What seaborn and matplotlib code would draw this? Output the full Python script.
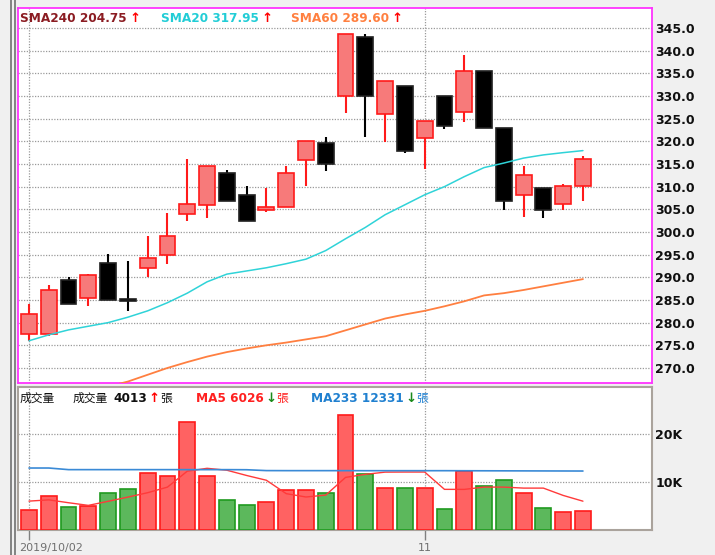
import numpy as np
import matplotlib
matplotlib.use('Agg')
import matplotlib.pyplot as plt
import matplotlib.transforms as mtransforms
from matplotlib.lines import Line2D
import seaborn as sns

# ---- data (29 daily candles) ----
opens = [277.6, 277.6, 289.5, 285.4, 293.1, 285.2, 292.1, 295.0, 304.0, 306.0,
         313.1, 308.2, 304.9, 305.4, 315.9, 319.6, 329.9, 343.1, 326.1, 332.1,
         320.7, 330.1, 326.4, 335.5, 323.0, 308.1, 309.6, 306.1, 310.2]
highs = [284.1, 288.2, 290.1, 290.8, 295.1, 293.7, 299.2, 304.1, 316.0, 314.6,
         313.7, 310.2, 309.6, 314.6, 320.1, 321.0, 343.6, 343.7, 333.2, 332.1,
         324.4, 330.1, 339.0, 335.5, 323.0, 314.6, 309.6, 310.6, 316.8]
lows = [276.0, 277.0, 284.0, 283.6, 285.1, 282.5, 290.0, 292.9, 302.5, 303.1,
        306.9, 302.5, 304.5, 305.4, 310.1, 313.5, 326.3, 320.9, 319.9, 317.4,
        313.8, 322.8, 324.3, 322.9, 304.9, 303.4, 303.0, 304.9, 306.8]
closes = [282.0, 287.2, 284.0, 290.6, 285.1, 284.8, 294.2, 299.1, 306.1, 314.5,
          306.9, 302.5, 305.6, 313.1, 320.1, 315.0, 343.6, 329.9, 333.2, 317.9,
          324.4, 323.4, 335.5, 322.9, 306.9, 312.6, 304.9, 310.2, 316.0]

sma20 = [276.0, 277.3, 278.4, 279.2, 280.0, 281.2, 282.6, 284.4, 286.5, 289.0,
         290.7, 291.4, 292.1, 293.0, 294.0, 295.9, 298.5, 301.0, 303.8, 306.0,
         308.2, 310.0, 312.2, 314.2, 315.2, 316.3, 317.0, 317.5, 317.95]
sma60 = [np.nan, np.nan, np.nan, np.nan, 265.9, 267.0, 268.5, 270.0, 271.3, 272.5,
         273.5, 274.3, 275.0, 275.6, 276.3, 277.0, 278.3, 279.6, 280.9, 281.8,
         282.6, 283.6, 284.7, 286.0, 286.5, 287.2, 288.0, 288.8, 289.6]

volume = [4090, 7170, 4720, 4990, 7720, 8560, 11850, 11280, 22600, 11280,
          6330, 5280, 5770, 8280, 8280, 7720, 24070, 11640, 8850, 8850,
          8850, 4440, 12300, 9120, 10520, 7720, 4650, 3810, 4013]
vol_ma5 = [6040, 6300, 5700, 5150, 6000, 6880, 7800, 8970, 12300, 12900,
           12500, 11400, 10400, 7600, 6900, 7300, 11000, 11640, 12100, 12120,
           12120, 8500, 8490, 8970, 8970, 8760, 8760, 7230, 6026]
vol_ma233 = [12960, 12960, 12620, 12620, 12620, 12620, 12620, 12620, 12620, 12620,
             12620, 12600, 12420, 12410, 12410, 12410, 12410, 12400, 12400, 12400,
             12400, 12400, 12390, 12380, 12370, 12360, 12350, 12340, 12331]

xtick_pos = [0, 20]
xtick_labels = ['2019/10/02', '11']
price_ticks = [270.0, 275.0, 280.0, 285.0, 290.0, 295.0, 300.0, 305.0,
               310.0, 315.0, 320.0, 325.0, 330.0, 335.0, 340.0, 345.0]
vol_ticks = [10000, 20000]
vol_tick_labels = ['10K', '20K']

sns.set_theme(style='white')
plt.rcParams['font.family'] = ['DejaVu Sans', 'Noto Sans CJK TC']
CJK = ['Noto Sans CJK TC', 'DejaVu Sans']
LAT = ['DejaVu Sans', 'Noto Sans CJK TC']

W, H = 715, 555
fig = plt.figure(figsize=(W / 100, H / 100), dpi=100, facecolor='#f0f0f0')
ax = fig.add_axes([18 / W, 1 - 383 / H, 634 / W, 375 / H])
axv = fig.add_axes([18 / W, 1 - 530 / H, 634 / W, 143 / H], sharex=ax)

# window frame lines on the left
for xp in (11, 15):
    fig.add_artist(Line2D([xp / W, xp / W], [0, 1], color='#707070', lw=1.2))

x = np.arange(len(opens))
o = np.array(opens)
c = np.array(closes)
up = c >= o

# ---- price candles ----
body_face = np.where(up, '#f77a7a', '#000000')
body_edge = np.where(up, '#ff1a1a', '#202020')
wick_col = np.where(up, '#ff1a1a', '#000000')
ax.vlines(x, lows, highs, colors=wick_col, lw=1.5, zorder=3)
ax.bar(x, np.maximum(np.abs(c - o), 0.35), bottom=np.minimum(o, c), width=0.8,
       color=body_face, edgecolor=body_edge, lw=1.2, zorder=4)
sns.lineplot(x=x, y=sma20, ax=ax, color='#2fd3d8', lw=1.1, zorder=5)
sns.lineplot(x=x, y=sma60, ax=ax, color='#ff7f40', lw=1.3, zorder=5)

# ---- volume ----
vol_face = np.where(up, '#ff6262', '#5cb85c')
vol_edge = np.where(up, '#ff1a1a', '#1f9a1f')
axv.bar(x, volume, width=0.8, color=vol_face, edgecolor=vol_edge, lw=1.2, zorder=3)
sns.lineplot(x=x, y=vol_ma5, ax=axv, color='#ff3a3a', lw=1.0, zorder=5)
sns.lineplot(x=x, y=vol_ma233, ax=axv, color='#3a8ad6', lw=1.2, zorder=5)

# ---- axes styling ----
grid_kw = dict(color='#9a9a9a', linestyle=(0, (1, 1.2)), lw=0.9)
for a in (ax, axv):
    a.set_facecolor('white')
    a.yaxis.tick_right()
    a.tick_params(axis='y', length=0, pad=2.5, labelsize=9, labelcolor='#101010')
    a.grid(True, **grid_kw)
    a.set_axisbelow(True)
    a.set_xlabel('')
    a.set_ylabel('')

ax.set_xlim(-0.556, 31.49)
ax.set_ylim(266.68, 349.41)
ax.set_yticks(price_ticks)
ax.set_yticklabels([f'{t:.1f}' for t in price_ticks], fontweight='bold')
ax.set_xticks(xtick_pos)
ax.tick_params(axis='x', labelbottom=False, length=0)
for s in ax.spines.values():
    s.set_color('#ff33ff')
    s.set_linewidth(1.3)

axv.set_ylim(0, 29900)
axv.set_yticks(vol_ticks)
axv.set_yticklabels(vol_tick_labels, fontweight='bold')
axv.set_xticks(xtick_pos)
axv.set_xticklabels(xtick_labels)
axv.tick_params(axis='x', length=7, width=1, color='#808080', labelsize=8,
                labelcolor='#707070', pad=2.5, direction='out', bottom=True)
first = axv.get_xticklabels()[0]
first.set_horizontalalignment('left')
first.set_transform(first.get_transform() +
                    mtransforms.ScaledTranslation(-0.10, 0, fig.dpi_scale_trans))
for s in axv.spines.values():
    s.set_color('#aaa39c')
    s.set_linewidth(1.5)


def put_chain(a, x_px, y_px, pieces):
    trans = a.transAxes + mtransforms.ScaledTranslation(x_px / 100, -y_px / 100,
                                                        fig.dpi_scale_trans)
    prev = None
    for txt, col, bold, fam, gap, size in pieces:
        kw = dict(color=col, fontsize=size, fontweight='bold' if bold else 'normal',
                  family=fam, zorder=10)
        if prev is None:
            prev = a.text(0, 1, txt, transform=trans, ha='left', va='center', **kw)
        else:
            prev = a.annotate(txt, xy=(1, 0), xycoords=prev, xytext=(gap, 0),
                              textcoords='offset points', ha='left', va='bottom', **kw)


UP = '\u2191'
DN = '\u2193'
put_chain(ax, 2, 10, [('SMA240 204.75', '#8b1c22', True, LAT, 0, 8.7),
                      (UP, '#ff0000', True, LAT, 2, 9.5)])
put_chain(ax, 143, 10, [('SMA20 317.95', '#22cdd6', True, LAT, 0, 8.7),
                        (UP, '#ff0000', True, LAT, 2, 9.5)])
put_chain(ax, 273, 10, [('SMA60 289.60', '#ff8040', True, LAT, 0, 8.7),
                        (UP, '#ff0000', True, LAT, 2, 9.5)])

put_chain(axv, 2, 11, [('成交量', '#101010', False, CJK, 0, 8.5)])
put_chain(axv, 55, 11, [('成交量', '#101010', False, CJK, 0, 8.5),
                        ('4013', '#101010', True, LAT, 4, 8.7),
                        (UP, '#ff0000', True, LAT, 1, 9.5),
                        ('張', '#101010', False, CJK, 0, 8.5)])
put_chain(axv, 178, 11, [('MA5 6026', '#ff2020', True, LAT, 0, 8.7),
                         (DN, '#1a8a1a', True, LAT, 1, 9.5),
                         ('張', '#ff2020', False, CJK, 0, 8.5)])
put_chain(axv, 293, 11, [('MA233 12331', '#2080d0', True, LAT, 0, 8.7),
                         (DN, '#1a8a1a', True, LAT, 1, 9.5),
                         ('張', '#2080d0', False, CJK, 0, 8.5)])

fig.savefig('out.png', dpi=100, facecolor=fig.get_facecolor())
